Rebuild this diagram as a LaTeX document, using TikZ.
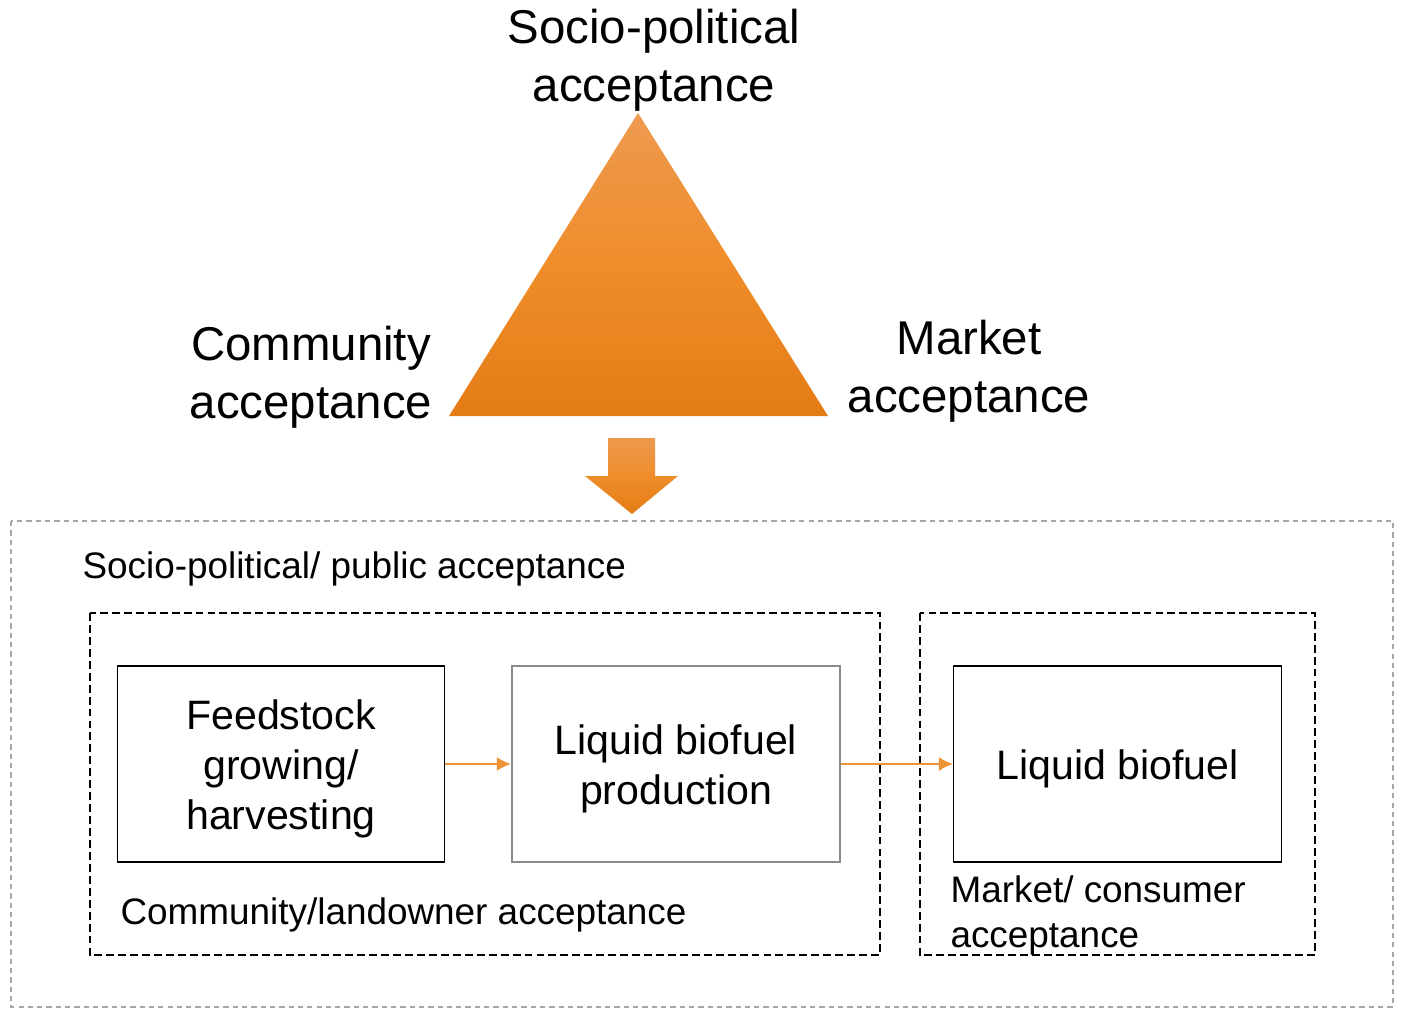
\documentclass[tikz,border=0pt]{standalone}
\usepackage{fontspec}
\setmainfont{Liberation Sans}
\usetikzlibrary{positioning,arrows.meta}

\definecolor{orangetop}{HTML}{EE9A50}
\definecolor{orangemid}{HTML}{EF8D2A}
\definecolor{orangebot}{HTML}{E47C15}
\definecolor{flowline}{HTML}{EE9333}
\definecolor{boxgray}{HTML}{8C8C8C}
\definecolor{framegray}{HTML}{A6A6A6}

\begin{document}
\begin{tikzpicture}[x=0.02cm, y=-0.02cm, semithick,
                    bigtext/.style={align=center, font=\fontsize{27}{33}\selectfont},
                    stage/.style={draw, line width=0.6pt, minimum width=6.56cm, minimum height=3.92cm},
                    stagetext/.style={align=center, yshift=-0.1cm, font=\fontsize{23.4}{28.5}\selectfont},
                    label/.style={anchor=west, align=left, inner sep=0pt, font=\fontsize{21}{25.6}\selectfont},
                    flow/.style={-{Latex[length=8pt, width=8pt]}, flowline, line width=1.2pt},
                    group/.style={draw, dashed, line width=1pt, dash pattern=on 4.5pt off 2.3pt},
                    orangefill/.style={top color=orangetop, bottom color=orangebot, middle color=orangemid}]

\useasboundingbox (0,0) rectangle (1401,1011);

% acceptance triangle
\coordinate (apex) at (638,113);
\coordinate (left) at (449,416);
\coordinate (right) at (828,416);
\shade[orangefill] (apex) -- (right) -- (left) -- cycle;

\node[bigtext] (socio) at (654,60) {Socio-political\\acceptance};
\node[bigtext] (comm) at (311,377) {Community\\acceptance};
\node[bigtext] (market) at (969,371) {Market\\acceptance};

% block arrow down to the chain
\shade[orangefill]
  (608,438) -- (655,438) -- (655,476) -- (678,476) -- (632,514) -- (585,476) -- (608,476) -- cycle;

% frames
\draw[framegray, dashed, line width=0.6pt, dash pattern=on 3pt off 2.3pt] (11,521) rectangle (1393,1007);
\draw[group] (90,613) rectangle (880,955);
\draw[group] (920,613) rectangle (1315,955);

\node[label] (public) at (82,569) {Socio-political/ public acceptance};
\node[label] (landowner) at (120,915) {Community/landowner acceptance};
\node[label] (consumer) at (950,915) {Market/ consumer\\acceptance};

% supply chain
\node[stage] (feed) at (281,764) {};
\node[stage, draw=boxgray, line width=1.2pt] (prod) at (676,764) {};
\node[stage] (fuel) at (1117.5,764) {};

\node[stagetext] (feedtext) at (feed) {Feedstock\\growing/\\harvesting};
\node[stagetext] (prodtext) at (prod) {Liquid biofuel\\production};
\node[stagetext] (fueltext) at (fuel) {Liquid biofuel};

\draw[flow] (feed) -- (prod);
\draw[flow] (prod) -- (fuel);

\end{tikzpicture}
\end{document}
